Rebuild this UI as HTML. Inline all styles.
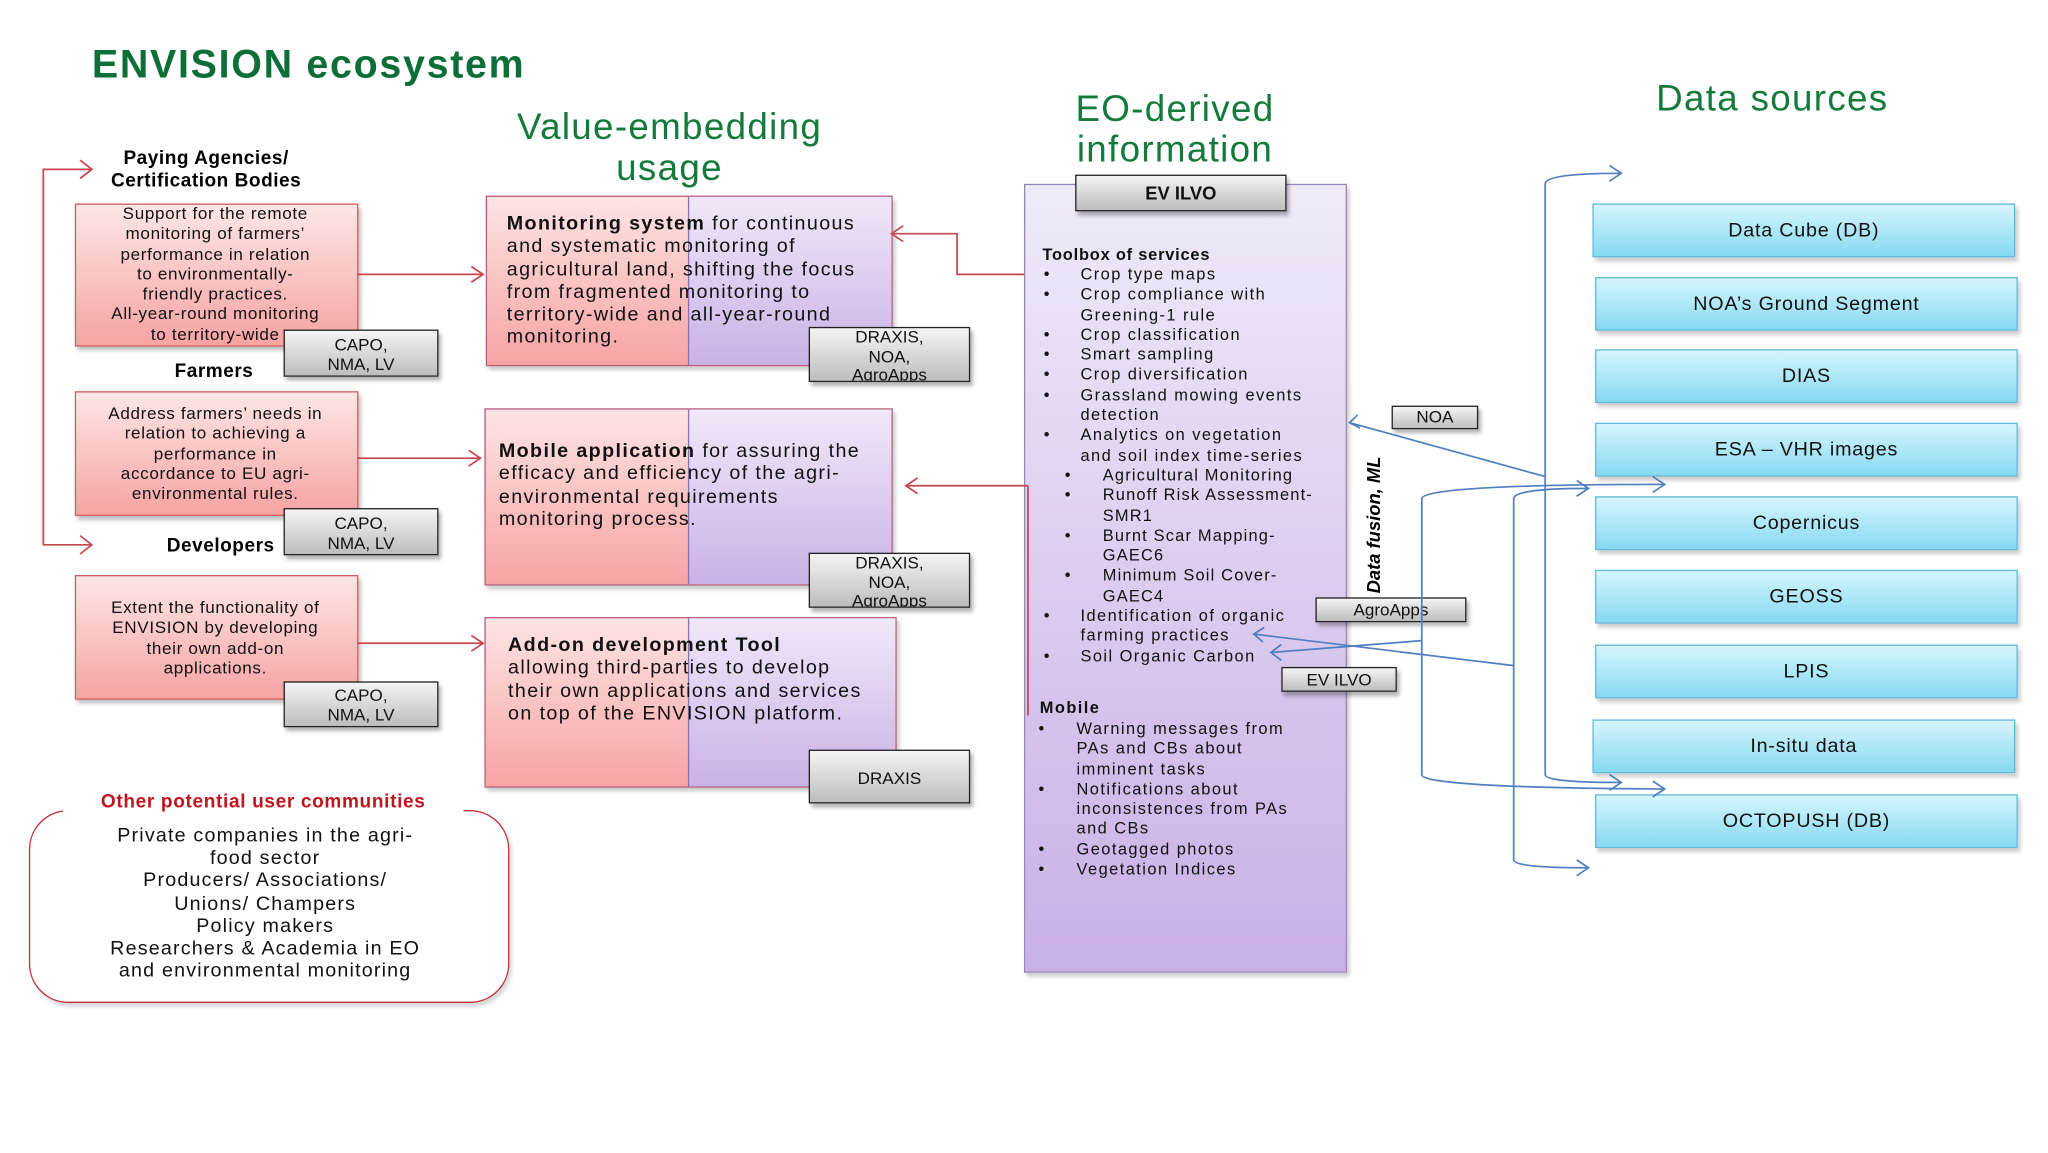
<!DOCTYPE html>
<html><head><meta charset="utf-8">
<style>
html,body{margin:0;padding:0;background:#fff;}
body{width:2048px;height:1152px;overflow:hidden;position:relative;font-family:"Liberation Sans",sans-serif;}
#s{position:absolute;left:0;top:0;width:1560px;height:878px;transform:scale(1.31282);transform-origin:0 0;}
.a{position:absolute;white-space:nowrap;}
.g{color:#137a3a;font-size:28px;text-align:center;line-height:31px;letter-spacing:1px;}
.pink{background:linear-gradient(#fde6e6,#f7a3a3);border:1.5px solid #d05a5a;box-shadow:2px 3px 3px rgba(0,0,0,.25);}
.gray{background:linear-gradient(#f4f4f4,#bdbdbd);border:1.5px solid #222;box-shadow:2px 3px 3px rgba(0,0,0,.3);font-size:13px;text-align:center;line-height:15px;color:#111;box-sizing:border-box;}
.cyan{background:linear-gradient(#d6f6fd,#86d9f1);border:1.5px solid #5cb8dc;box-shadow:2px 3px 3px rgba(0,0,0,.2);font-size:15px;text-align:center;box-sizing:border-box;letter-spacing:.6px;color:#111;}
.t13{font-size:13px;line-height:15.3px;text-align:center;letter-spacing:.5px;color:#111;}
.mt{font-size:15px;line-height:17.3px;letter-spacing:1.05px;color:#111;}
.eo{font-size:12.5px;line-height:15.3px;letter-spacing:1.1px;color:#111;}
</style></head><body><div id="s">
<div class="a" style="left:70px;top:33px;font-size:30px;font-weight:bold;color:#0e6e38;letter-spacing:1.3px;">ENVISION ecosystem</div>
<div class="a g" style="left:370px;top:81px;width:280px;">Value-embedding<br>usage</div>
<div class="a g" style="left:755px;top:67px;width:280px;">EO-derived<br>information</div>
<div class="a g" style="left:1230px;top:59px;width:240px;">Data sources</div>

<div class="a" style="left:57px;top:113px;width:200px;text-align:center;font-size:14.5px;font-weight:bold;line-height:17px;letter-spacing:.4px;">Paying Agencies/<br>Certification Bodies</div>
<div class="a pink" style="left:57px;top:155px;width:214px;height:107px;"></div>
<div class="a t13" style="left:57px;top:155px;width:214px;">Support for the remote<br>monitoring of farmers’<br>performance in relation<br>to environmentally-<br>friendly practices.<br>All-year-round monitoring<br>to territory-wide</div>
<div class="a gray" style="left:216px;top:251px;width:118px;height:36px;padding-top:3px;">CAPO,<br>NMA, LV</div>
<div class="a" style="left:133px;top:275px;font-size:14.5px;font-weight:bold;letter-spacing:.4px;">Farmers</div>
<div class="a pink" style="left:57px;top:298px;width:214px;height:93px;"></div>
<div class="a t13" style="left:57px;top:307px;width:214px;">Address farmers’ needs in<br>relation to achieving a<br>performance in<br>accordance to EU agri-<br>environmental rules.</div>
<div class="a gray" style="left:216px;top:387px;width:118px;height:36px;padding-top:3px;">CAPO,<br>NMA, LV</div>
<div class="a" style="left:127px;top:408px;font-size:14.5px;font-weight:bold;letter-spacing:.4px;">Developers</div>
<div class="a pink" style="left:57px;top:438px;width:214px;height:93px;"></div>
<div class="a t13" style="left:57px;top:455px;width:214px;">Extent the functionality of<br>ENVISION by developing<br>their own add-on<br>applications.</div>
<div class="a gray" style="left:216px;top:519px;width:118px;height:35px;padding-top:2px;">CAPO,<br>NMA, LV</div>

<div class="a" style="left:370px;top:149px;width:308px;height:128px;border:1.5px solid #b85a7a;box-shadow:2px 3px 3px rgba(0,0,0,.2);background:linear-gradient(#fde4e4,#f7a3a3);"><div style="position:absolute;left:153px;top:0;right:0;bottom:0;background:linear-gradient(#f0e8f8,#c9b2e6);border-left:1.5px solid #8a70b8;"></div></div>
<div class="a mt" style="left:386px;top:162px;"><b>Monitoring system</b> for continuous<br>and systematic monitoring of<br>agricultural land, shifting the focus<br>from fragmented monitoring to<br>territory-wide and all-year-round<br>monitoring.</div>
<div class="a gray" style="left:616px;top:249px;width:123px;height:42px;line-height:14.5px;overflow:hidden;">DRAXIS,<br>NOA,<br>AgroApps</div>

<div class="a" style="left:369px;top:311px;width:309px;height:133px;border:1.5px solid #b85a7a;box-shadow:2px 3px 3px rgba(0,0,0,.2);background:linear-gradient(#fde4e4,#f7a3a3);"><div style="position:absolute;left:154px;top:0;right:0;bottom:0;background:linear-gradient(#f0e8f8,#c9b2e6);border-left:1.5px solid #8a70b8;"></div></div>
<div class="a mt" style="left:380px;top:335px;"><b>Mobile application</b> for assuring the<br>efficacy and efficiency of the agri-<br>environmental requirements<br>monitoring process.</div>
<div class="a gray" style="left:616px;top:421px;width:123px;height:42px;line-height:14.5px;overflow:hidden;">DRAXIS,<br>NOA,<br>AgroApps</div>

<div class="a" style="left:369px;top:470px;width:312px;height:128px;border:1.5px solid #b85a7a;box-shadow:2px 3px 3px rgba(0,0,0,.2);background:linear-gradient(#fde4e4,#f7a3a3);"><div style="position:absolute;left:154px;top:0;right:0;bottom:0;background:linear-gradient(#f0e8f8,#c9b2e6);border-left:1.5px solid #8a70b8;"></div></div>
<div class="a mt" style="left:387px;top:483px;"><b>Add-on development Tool</b><br>allowing third-parties to develop<br>their own applications and services<br>on top of the ENVISION platform.</div>
<div class="a gray" style="left:616px;top:571px;width:123px;height:41px;line-height:41px;">DRAXIS</div>

<div class="a" style="left:22px;top:617px;width:366px;height:147px;border:1.5px solid #c0303a;border-radius:30px;box-sizing:border-box;box-shadow:2px 3px 3px rgba(0,0,0,.15);"></div>
<div class="a" style="left:48px;top:603px;width:305px;background:#fff;text-align:center;color:#c0151f;font-weight:bold;font-size:14.5px;letter-spacing:.5px;">Other potential user communities</div>
<div class="a" style="left:22px;top:628px;width:360px;text-align:center;font-size:15px;line-height:17.2px;letter-spacing:.9px;color:#111;">Private companies in the agri-<br>food sector<br>Producers/ Associations/<br>Unions/ Champers<br>Policy makers<br>Researchers &amp; Academia in EO<br>and environmental monitoring</div>

<div class="a" style="left:780px;top:140px;width:246px;height:601px;background:linear-gradient(#f0eaf8,#c8b0e6);border:1.5px solid #9585b8;box-sizing:border-box;box-shadow:2px 3px 3px rgba(0,0,0,.2);"></div>
<div class="a gray" style="left:819px;top:133px;width:161px;height:28px;line-height:26px;font-weight:bold;font-size:14px;">EV ILVO</div>
<div class="a eo" style="left:794px;top:187px;font-weight:bold;letter-spacing:.6px;">Toolbox of services</div>
<div class="a eo" style="left:795px;top:202px;">•<br>•<br><br>•<br>•<br>•<br>•<br><br>•</div>
<div class="a eo" style="left:823px;top:202px;">Crop type maps<br>Crop compliance with<br>Greening-1 rule<br>Crop classification<br>Smart sampling<br>Crop diversification<br>Grassland mowing events<br>detection<br>Analytics on vegetation<br>and soil index time-series</div>
<div class="a eo" style="left:811px;top:355px;">•<br>•<br><br>•<br><br>•</div>
<div class="a eo" style="left:840px;top:355px;letter-spacing:.9px;">Agricultural Monitoring<br>Runoff Risk Assessment-<br>SMR1<br>Burnt Scar Mapping-<br>GAEC6<br>Minimum Soil Cover-<br>GAEC4</div>
<div class="a eo" style="left:795px;top:462px;">•<br><br>•</div>
<div class="a eo" style="left:823px;top:462px;">Identification of organic<br>farming practices<br>Soil Organic Carbon</div>
<div class="a eo" style="left:792px;top:532px;font-weight:bold;">Mobile</div>
<div class="a eo" style="left:791px;top:548px;">•<br><br><br>•<br><br><br>•<br>•</div>
<div class="a eo" style="left:820px;top:548px;">Warning messages from<br>PAs and CBs about<br>imminent tasks<br>Notifications about<br>inconsistences from PAs<br>and CBs<br>Geotagged photos<br>Vegetation Indices</div>

<div class="a" style="left:998px;top:396px;width:96px;text-align:center;transform:rotate(-90deg);font-style:italic;font-weight:bold;font-size:14px;">Data fusion, ML</div>
<div class="a gray" style="left:1060px;top:309px;width:66px;height:18px;line-height:16px;">NOA</div>
<div class="a gray" style="left:1002px;top:455px;width:115px;height:19px;line-height:17px;">AgroApps</div>
<div class="a gray" style="left:976px;top:508px;width:88px;height:19px;line-height:17px;">EV ILVO</div>

<div class="a cyan" style="left:1213px;top:155px;width:322px;height:41px;line-height:39px;">Data Cube (DB)</div>
<div class="a cyan" style="left:1215px;top:211px;width:322px;height:41px;line-height:39px;">NOA’s Ground Segment</div>
<div class="a cyan" style="left:1215px;top:266px;width:322px;height:41px;line-height:39px;">DIAS</div>
<div class="a cyan" style="left:1215px;top:322px;width:322px;height:41px;line-height:39px;">ESA – VHR images</div>
<div class="a cyan" style="left:1215px;top:378px;width:322px;height:41px;line-height:39px;">Copernicus</div>
<div class="a cyan" style="left:1215px;top:434px;width:322px;height:41px;line-height:39px;">GEOSS</div>
<div class="a cyan" style="left:1215px;top:491px;width:322px;height:41px;line-height:39px;">LPIS</div>
<div class="a cyan" style="left:1213px;top:548px;width:322px;height:41px;line-height:39px;">In-situ data</div>
<div class="a cyan" style="left:1215px;top:605px;width:322px;height:41px;line-height:39px;">OCTOPUSH (DB)</div>

<svg class="a" style="left:0;top:0;" width="1560" height="878" fill="none">
<g stroke="#c8464e" stroke-width="1.3">
<path d="M70 129H33V415H70M61 122l9 7-9 7M61 408l9 7-9 7"/>
<path d="M272 209H368M359 203l9 6-9 6"/>
<path d="M272 349H366M357 343l9 6-9 6"/>
<path d="M272 490H368M359 484l9 6-9 6"/>
<path d="M780 209H729V178H679M688 172l-9 6 9 6"/>
<path d="M783 370H690M699 364l-9 6 9 6M783 370V545"/>
</g>
<g stroke="#4f7fbf" stroke-width="1.3">
<path d="M1235 132Q1177 132 1177 140V590Q1177 596 1235 596M1226 126l9 6-9 6M1226 590l9 6-9 6"/>
<path d="M1210 372Q1153 372 1153 380V655Q1153 661 1210 661M1201 366l9 6-9 6M1201 655l9 6-9 6"/>
<path d="M1268 369Q1083 369 1083 380V590Q1083 600 1268 601M1259 363l9 6-9 6M1259 595l9 6-9 6"/>
<path d="M1177 363L1028 322M1034 316l-6 6 8 4"/>
<path d="M1153 507L955 483M963 478l-8 5 7 6"/>
<path d="M1083 488L968 497M976 491l-8 6 8 6"/>
</g>
</svg>
</div></body></html>
